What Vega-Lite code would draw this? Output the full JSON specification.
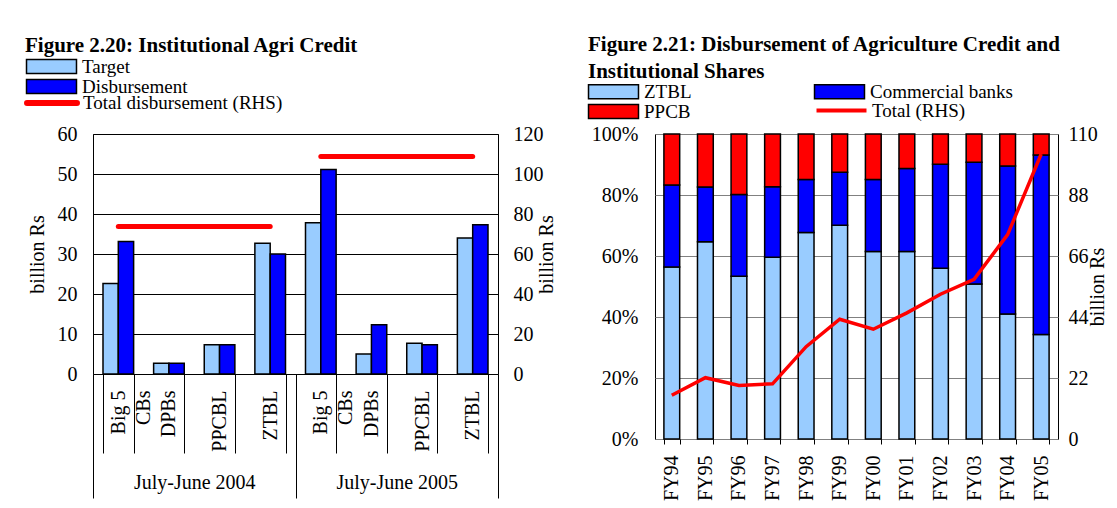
{
  "$schema": "https://vega.github.io/schema/vega-lite/v6.json",
  "padding": {"left": 24, "top": 33, "right": 0, "bottom": 0},
  "bounds": "flush",
  "spacing": 157,
  "datasets": {
    "agri": [
      {"key": "2004|Big 5|CBs", "series": "Target", "value": 22.6},
      {"key": "2004|Big 5|CBs", "series": "Disbursement", "value": 33.1},
      {"key": "2004|DPBs", "series": "Target", "value": 2.7},
      {"key": "2004|DPBs", "series": "Disbursement", "value": 2.7},
      {"key": "2004|PPCBL", "series": "Target", "value": 7.3},
      {"key": "2004|PPCBL", "series": "Disbursement", "value": 7.3},
      {"key": "2004|ZTBL", "series": "Target", "value": 32.7},
      {"key": "2004|ZTBL", "series": "Disbursement", "value": 30.0},
      {"key": "2005|Big 5|CBs", "series": "Target", "value": 37.8},
      {"key": "2005|Big 5|CBs", "series": "Disbursement", "value": 51.1},
      {"key": "2005|DPBs", "series": "Target", "value": 5.0},
      {"key": "2005|DPBs", "series": "Disbursement", "value": 12.3},
      {"key": "2005|PPCBL", "series": "Target", "value": 7.7},
      {"key": "2005|PPCBL", "series": "Disbursement", "value": 7.3},
      {"key": "2005|ZTBL", "series": "Target", "value": 34.0},
      {"key": "2005|ZTBL", "series": "Disbursement", "value": 37.3}
    ],
    "agriTotal": [
      {"year": "July-June 2004", "total": 73.7},
      {"year": "July-June 2005", "total": 108.7}
    ],
    "shares": [
      {"fy": "FY94", "inst": "ZTBL", "ord": 1, "share": 56.4},
      {"fy": "FY94", "inst": "Commercial banks", "ord": 2, "share": 26.9},
      {"fy": "FY94", "inst": "PPCB", "ord": 3, "share": 16.7},
      {"fy": "FY95", "inst": "ZTBL", "ord": 1, "share": 64.7},
      {"fy": "FY95", "inst": "Commercial banks", "ord": 2, "share": 17.9},
      {"fy": "FY95", "inst": "PPCB", "ord": 3, "share": 17.4},
      {"fy": "FY96", "inst": "ZTBL", "ord": 1, "share": 53.4},
      {"fy": "FY96", "inst": "Commercial banks", "ord": 2, "share": 26.8},
      {"fy": "FY96", "inst": "PPCB", "ord": 3, "share": 19.8},
      {"fy": "FY97", "inst": "ZTBL", "ord": 1, "share": 59.6},
      {"fy": "FY97", "inst": "Commercial banks", "ord": 2, "share": 23.1},
      {"fy": "FY97", "inst": "PPCB", "ord": 3, "share": 17.3},
      {"fy": "FY98", "inst": "ZTBL", "ord": 1, "share": 67.7},
      {"fy": "FY98", "inst": "Commercial banks", "ord": 2, "share": 17.4},
      {"fy": "FY98", "inst": "PPCB", "ord": 3, "share": 14.9},
      {"fy": "FY99", "inst": "ZTBL", "ord": 1, "share": 70.1},
      {"fy": "FY99", "inst": "Commercial banks", "ord": 2, "share": 17.4},
      {"fy": "FY99", "inst": "PPCB", "ord": 3, "share": 12.5},
      {"fy": "FY00", "inst": "ZTBL", "ord": 1, "share": 61.5},
      {"fy": "FY00", "inst": "Commercial banks", "ord": 2, "share": 23.6},
      {"fy": "FY00", "inst": "PPCB", "ord": 3, "share": 14.9},
      {"fy": "FY01", "inst": "ZTBL", "ord": 1, "share": 61.5},
      {"fy": "FY01", "inst": "Commercial banks", "ord": 2, "share": 27.2},
      {"fy": "FY01", "inst": "PPCB", "ord": 3, "share": 11.3},
      {"fy": "FY02", "inst": "ZTBL", "ord": 1, "share": 56.0},
      {"fy": "FY02", "inst": "Commercial banks", "ord": 2, "share": 34.1},
      {"fy": "FY02", "inst": "PPCB", "ord": 3, "share": 9.9},
      {"fy": "FY03", "inst": "ZTBL", "ord": 1, "share": 50.8},
      {"fy": "FY03", "inst": "Commercial banks", "ord": 2, "share": 39.9},
      {"fy": "FY03", "inst": "PPCB", "ord": 3, "share": 9.3},
      {"fy": "FY04", "inst": "ZTBL", "ord": 1, "share": 41.0},
      {"fy": "FY04", "inst": "Commercial banks", "ord": 2, "share": 48.5},
      {"fy": "FY04", "inst": "PPCB", "ord": 3, "share": 10.5},
      {"fy": "FY05", "inst": "ZTBL", "ord": 1, "share": 34.3},
      {"fy": "FY05", "inst": "Commercial banks", "ord": 2, "share": 58.8},
      {"fy": "FY05", "inst": "PPCB", "ord": 3, "share": 6.9}
    ],
    "totals": [
      {"fy": "FY94", "total": 15.8},
      {"fy": "FY95", "total": 22.1},
      {"fy": "FY96", "total": 19.3},
      {"fy": "FY97", "total": 19.9},
      {"fy": "FY98", "total": 33.3},
      {"fy": "FY99", "total": 43.2},
      {"fy": "FY00", "total": 39.6},
      {"fy": "FY01", "total": 45.5},
      {"fy": "FY02", "total": 52.2},
      {"fy": "FY03", "total": 57.6},
      {"fy": "FY04", "total": 73.7},
      {"fy": "FY05", "total": 102.8}
    ]
  },
  "hconcat": [
    {
      "width": 405,
      "height": 240,
      "title": {"text": "Figure 2.20: Institutional Agri Credit", "dx": -68, "offset": 1},
      "layer": [
        {
          "data": {"name": "agri"},
          "mark": {"type": "bar", "stroke": "black", "strokeWidth": 1.5},
          "encoding": {
            "x": {
              "field": "key", "type": "nominal", "sort": null,
              "scale": {"type": "band", "paddingInner": 0.395, "paddingOuter": 0.1975},
              "axis": {
                "orient": "bottom", "title": null, "domain": false, "ticks": true,
                "tickBand": "extent", "tickSize": 79, "tickColor": "black", "tickWidth": 1,
                "labelAngle": 270, "labelPadding": -63, "labelLineHeight": 25,
                "labelExpr": "slice(split(datum.value,'|'),1)"
              }
            },
            "xOffset": {"field": "series", "type": "nominal", "sort": ["Target", "Disbursement"], "scale": {"paddingInner": 0, "paddingOuter": 0}},
            "y": {
              "field": "value", "type": "quantitative",
              "scale": {"domain": [0, 60]},
              "axis": {
                "title": "billion Rs", "values": [0, 10, 20, 30, 40, 50, 60], "domain": false, "ticks": false,
                "labelPadding": 16, "grid": true, "gridColor": "black", "gridWidth": 1, "titlePadding": 10
              }
            },
            "fill": {
              "field": "series", "type": "nominal",
              "scale": {"domain": ["Target", "Disbursement"], "range": ["#99CCFF", "#0000FF"]},
              "legend": {
                "orient": "none", "legendX": -51, "legendY": -77, "title": null, "padding": 0,
                "symbolType": "M-3.57,-1H3.57V1H-3.57Z", "symbolSize": 196,
                "symbolStrokeColor": "black", "symbolStrokeWidth": 1.5, "labelOffset": 21, "rowPadding": -4,
                "encode": {"symbols": {"update": {"stroke": {"value": "black"}, "strokeWidth": {"value": 1.5}}}}
              }
            }
          }
        },
        {
          "data": {"name": "agriTotal"},
          "mark": {"type": "rule", "strokeWidth": 5, "strokeCap": "round"},
          "encoding": {
            "x": {
              "field": "year", "type": "nominal", "bandPosition": 0.125,
              "scale": {"type": "band", "paddingInner": 0, "paddingOuter": 0},
              "axis": {
                "orient": "bottom", "title": null, "domain": false, "ticks": true,
                "tickBand": "extent", "tickSize": 124, "tickColor": "black", "tickWidth": 1,
                "labelAngle": 0, "labelPadding": -26
              }
            },
            "x2": {"field": "year", "bandPosition": 0.875},
            "y": {
              "field": "total", "type": "quantitative",
              "scale": {"domain": [0, 120]},
              "axis": {
                "orient": "right", "title": "billion Rs", "titleAngle": 270, "values": [0, 20, 40, 60, 80, 100, 120],
                "domain": false, "ticks": false, "labelPadding": 15, "grid": false, "titlePadding": 13
              }
            },
            "stroke": {
              "datum": "Total disbursement (RHS)",
              "scale": {"range": ["#FF0000"]},
              "legend": {
                "orient": "none", "legendX": -51, "legendY": -41, "title": null, "padding": 0, "labelLimit": 400,
                "symbolType": "M-3.57,0H3.57", "symbolSize": 196, "symbolStrokeWidth": 6, "labelOffset": 21,
                "encode": {"symbols": {"update": {"strokeCap": {"value": "round"}}}}
              }
            }
          }
        }
      ],
      "resolve": {"scale": {"x": "independent", "y": "independent"}}
    },
    {
      "width": 403,
      "height": 305,
      "title": {"text": ["Figure 2.21: Disbursement of Agriculture Credit and", "Institutional Shares"], "dx": -67, "offset": 0, "lineHeight": 27},
      "layer": [
        {
          "data": {"name": "shares"},
          "mark": {"type": "bar", "stroke": "black", "strokeWidth": 1.5},
          "encoding": {
            "x": {
              "field": "fy", "type": "nominal", "sort": null,
              "scale": {"type": "band", "paddingInner": 0.53, "paddingOuter": 0.265},
              "axis": {
                "orient": "bottom", "title": null, "domain": false, "ticks": true,
                "tickBand": "extent", "tickSize": 5, "tickColor": "black", "tickWidth": 1,
                "labelAngle": 270, "labelPadding": 11
              }
            },
            "y": {
              "field": "share", "type": "quantitative", "stack": "zero",
              "scale": {"domain": [0, 100]},
              "axis": {
                "title": null, "values": [0, 20, 40, 60, 80, 100], "labelExpr": "datum.value + '%'",
                "domain": false, "ticks": false, "labelPadding": 17, "grid": true, "gridColor": "#808080", "gridWidth": 1
              }
            },
            "order": {"field": "ord", "type": "quantitative"},
            "fill": {
              "field": "inst", "type": "nominal",
              "scale": {"domain": ["ZTBL", "PPCB", "Commercial banks"], "range": ["#99CCFF", "#FF0000", "#0000FF"]},
              "legend": {
                "orient": "none", "legendX": -51, "legendY": -52, "title": null, "padding": 0,
                "columns": 2, "columnPadding": 119,
                "symbolType": "M-3.57,-1H3.57V1H-3.57Z", "symbolSize": 196,
                "symbolStrokeColor": "black", "symbolStrokeWidth": 1.5, "labelOffset": 21, "rowPadding": -2,
                "encode": {"symbols": {"update": {"stroke": {"value": "black"}, "strokeWidth": {"value": 1.5}}}}
              }
            }
          }
        },
        {
          "data": {"name": "totals"},
          "mark": {"type": "line", "strokeWidth": 3.5},
          "encoding": {
            "x": {"field": "fy", "type": "nominal", "sort": null},
            "y": {
              "field": "total", "type": "quantitative",
              "scale": {"domain": [0, 110]},
              "axis": {
                "orient": "right", "title": "billion Rs", "titleAngle": 270, "values": [0, 22, 44, 66, 88, 110],
                "domain": false, "ticks": false, "labelPadding": 10, "grid": false, "titlePadding": 10
              }
            },
            "stroke": {
              "datum": "Total (RHS)",
              "scale": {"range": ["#FF0000"]},
              "legend": {
                "orient": "none", "legendX": 177, "legendY": -33, "title": null, "padding": 0,
                "symbolType": "M-3.57,0H3.57", "symbolSize": 196, "symbolStrokeWidth": 4, "labelOffset": 21
              }
            }
          }
        }
      ],
      "resolve": {"scale": {"y": "independent"}}
    }
  ],
  "resolve": {
    "scale": {"fill": "independent", "stroke": "independent"},
    "legend": {"fill": "independent", "stroke": "independent"}
  },
  "config": {
    "font": "Liberation Serif",
    "view": {"stroke": "black", "strokeWidth": 1},
    "axis": {
      "labelFont": "Liberation Serif", "labelFontSize": 20, "labelColor": "black",
      "titleFont": "Liberation Serif", "titleFontSize": 20, "titleFontWeight": "normal", "titleColor": "black"
    },
    "legend": {"labelFont": "Liberation Serif", "labelFontSize": 19, "labelColor": "black"},
    "title": {
      "font": "Liberation Serif", "fontSize": 21, "fontWeight": "bold", "color": "black",
      "anchor": "start", "frame": "group", "baseline": "bottom"
    }
  }
}
